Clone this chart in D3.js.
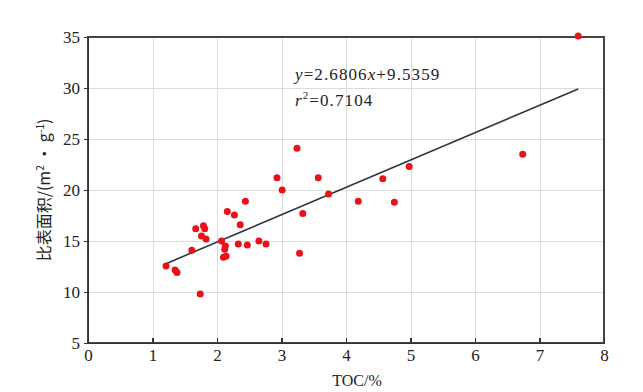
<!DOCTYPE html>
<html lang="zh">
<head>
<meta charset="UTF-8">
<title>TOC vs specific surface area</title>
<script src="https://cdn.jsdelivr.net/npm/d3@7"></script>
<style>
  body { margin: 0; background: #fff; }
  .axis text { font-family: "Liberation Serif", "DejaVu Serif", serif; font-size: 17px; fill: #222; }
  .axis path, .axis line { stroke: #333; stroke-width: 1.2px; shape-rendering: crispEdges; }
  .grid line { stroke: #dcdcdc; stroke-width: 1px; shape-rendering: crispEdges; }
  .grid path { stroke-width: 0; }
</style>
</head>
<body>
<div id="chart"></div>
<script>
// data
var tocValues = [7.60, 6.74, 4.98, 4.57, 4.19, 4.75, 3.73, 3.57, 3.24, 2.93, 3.01, 3.33, 3.28,
                 2.44, 2.16, 2.27, 2.36, 1.67, 1.79, 1.81, 1.76, 1.83, 1.61, 2.07, 2.13, 2.12,
                 2.33, 2.47, 2.65, 2.76, 2.10, 2.14, 1.21, 1.35, 1.38, 1.74];
var areaValues = [35.1, 23.5, 22.3, 21.1, 18.9, 18.8, 19.6, 21.2, 24.1, 21.2, 20.0, 17.7, 13.8,
                  18.9, 17.9, 17.55, 16.6, 16.2, 16.5, 16.2, 15.5, 15.2, 14.1, 15.0, 14.5, 14.2,
                  14.7, 14.6, 15.0, 14.7, 13.4, 13.5, 12.55, 12.15, 11.9, 9.8];
var xTicks = [0, 1, 2, 3, 4, 5, 6, 7, 8];
var yTicks = [5, 10, 15, 20, 25, 30, 35];
var slope = 2.6806, intercept = 9.5359;
var fitRange = [1.2, 7.6];

var width = 643, height = 392;
var padL = 88, padR = 604, padT = 37, padB = 343;

var points = tocValues.map(function(v, i){ return {x: v, y: areaValues[i]}; });

var Xscale = d3.scaleLinear().domain([0, 8]).range([padL, padR]);
var Yscale = d3.scaleLinear().domain([5, 35]).range([padB, padT]);

var svg = d3.select("#chart").append("svg")
    .attr("width", width)
    .attr("height", height);

// grid
svg.append("g")
    .attr("class", "grid")
    .attr("transform", "translate(0," + padB + ")")
    .call(d3.axisBottom(Xscale).tickValues(xTicks.slice(1, -1)).tickSize(padT - padB).tickFormat(""));
svg.append("g")
    .attr("class", "grid")
    .attr("transform", "translate(" + padL + ",0)")
    .call(d3.axisLeft(Yscale).tickValues(yTicks.slice(1, -1)).tickSize(padL - padR).tickFormat(""));

// frame
svg.append("rect")
    .attr("x", padL).attr("y", padT)
    .attr("width", padR - padL).attr("height", padB - padT)
    .attr("fill", "none")
    .attr("stroke", "#444")
    .attr("stroke-width", 1.2)
    .attr("shape-rendering", "crispEdges");

// axes
svg.append("g")
    .attr("class", "axis")
    .attr("transform", "translate(0," + padB + ")")
    .call(d3.axisBottom(Xscale).tickValues(xTicks).tickSize(-5).tickPadding(6).tickFormat(d3.format("d")));
svg.append("g")
    .attr("class", "axis")
    .attr("transform", "translate(" + padL + ",0)")
    .call(d3.axisLeft(Yscale).tickValues(yTicks).tickSize(4).tickPadding(4).tickFormat(d3.format("d")));

// fit line
var fitLine = d3.line()
    .x(function(d){ return Xscale(d); })
    .y(function(d){ return Yscale(slope * d + intercept); });
svg.append("path")
    .attr("d", fitLine(fitRange))
    .attr("stroke", "#2c3640")
    .attr("stroke-width", 1.6)
    .attr("fill", "none");

// points
svg.selectAll("circle")
    .data(points)
    .enter()
    .append("circle")
    .attr("cx", function(d){ return Xscale(d.x); })
    .attr("cy", function(d){ return Yscale(d.y); })
    .attr("r", 3.5)
    .attr("fill", "#e8121b");

// equation
var eq = svg.append("text")
    .attr("x", 295).attr("y", 80)
    .attr("font-family", "Liberation Serif, DejaVu Serif, serif")
    .attr("font-size", "17px")
    .attr("letter-spacing", "1.1px")
    .attr("fill", "#222");
eq.append("tspan").attr("font-style", "italic").text("y");
eq.append("tspan").text("=2.6806");
eq.append("tspan").attr("font-style", "italic").text("x");
eq.append("tspan").text("+9.5359");

var r2 = svg.append("text")
    .attr("x", 295).attr("y", 106)
    .attr("font-family", "Liberation Serif, DejaVu Serif, serif")
    .attr("font-size", "17px")
    .attr("letter-spacing", "1.1px")
    .attr("fill", "#222");
r2.append("tspan").attr("font-style", "italic").text("r");
r2.append("tspan").attr("font-size", "11px").attr("dy", -7).text("2");
r2.append("tspan").attr("dy", 7).text("=0.7104");

// axis titles
svg.append("text")
    .attr("x", (padL + padR) / 2 + 11).attr("y", 386)
    .attr("text-anchor", "middle")
    .attr("font-family", "Liberation Serif, DejaVu Serif, serif")
    .attr("font-size", "16px")
    .attr("fill", "#222")
    .text("TOC/%");

var ylab = svg.append("text")
    .attr("transform", "translate(50,190) rotate(-90)")
    .attr("text-anchor", "middle")
    .attr("font-family", "Noto Sans CJK SC, sans-serif")
    .attr("font-size", "16px")
    .attr("fill", "#222");
ylab.append("tspan").text("比表面积/(m");
ylab.append("tspan").attr("font-size", "10px").attr("dy", -6).text("2");
ylab.append("tspan").attr("dy", 6).text(" • g");
ylab.append("tspan").attr("font-size", "10px").attr("dy", -6).text("-1");
ylab.append("tspan").attr("dy", 6).text(")");
</script>
</body>
</html>
